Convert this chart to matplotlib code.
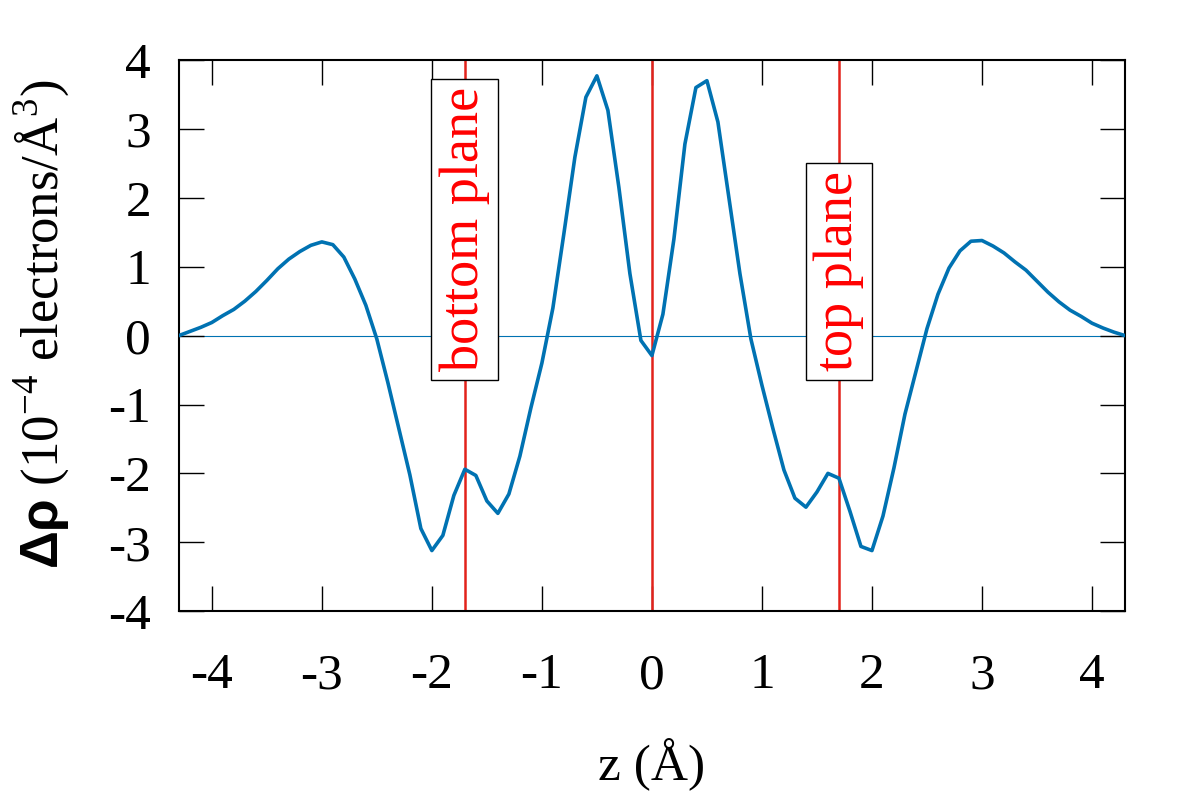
import matplotlib
matplotlib.use("Agg")
import matplotlib.pyplot as plt
import numpy as np

plt.rcParams['font.family'] = ['Liberation Serif', 'DejaVu Serif']
plt.rcParams['mathtext.fontset'] = 'custom'
plt.rcParams['mathtext.rm'] = 'Liberation Serif'
plt.rcParams['mathtext.bf'] = 'Liberation Sans:bold'
plt.rcParams['axes.unicode_minus'] = False

# charge density difference along z
z = np.round(np.arange(-4.3, 4.31, 0.1), 2)
drho = [0.00, 0.06, 0.12, 0.19, 0.29, 0.38, 0.50, 0.64, 0.80, 0.97,
        1.11, 1.22, 1.31, 1.36, 1.32, 1.14, 0.82, 0.44, -0.05, -0.68,
        -1.35, -2.02, -2.80, -3.12, -2.90, -2.32, -1.94, -2.03, -2.40, -2.58,
        -2.30, -1.75, -1.05, -0.40, 0.40, 1.48, 2.59, 3.46, 3.77, 3.27,
        2.15, 0.90, -0.07, -0.29, 0.31, 1.40, 2.78, 3.60, 3.70, 3.10,
        2.00, 0.90, -0.05, -0.72, -1.35, -1.95, -2.36, -2.49, -2.27, -2.00,
        -2.07, -2.55, -3.06, -3.12, -2.62, -1.92, -1.14, -0.52, 0.10, 0.60,
        0.98, 1.23, 1.37, 1.38, 1.30, 1.20, 1.07, 0.95, 0.79, 0.63,
        0.49, 0.37, 0.28, 0.18, 0.11, 0.05, 0.00]

planes = [-1.7, 0.0, 1.7]
plane_labels = {-1.7: 'bottom plane', 1.7: 'top plane'}
xticks = [-4, -3, -2, -1, 0, 1, 2, 3, 4]
yticks = [-4, -3, -2, -1, 0, 1, 2, 3, 4]

fig = plt.figure(figsize=(12, 8), dpi=100)
ax = fig.add_axes([0.149, 0.236, 0.7885, 0.689])

blue = '#0072b2'
red = '#e2221b'

ax.axhline(0, color=blue, lw=0.8, zorder=1)
for p in planes:
    ax.axvline(p, color=red, lw=1.8, zorder=2)
ax.plot(z, drho, color=blue, lw=2.6, zorder=3)

# plane labels in boxes
for p, lab in plane_labels.items():
    ax.text(p, -0.52, lab, rotation=90, ha='center', va='bottom',
            color='red', fontsize=39, zorder=5,
            bbox=dict(boxstyle='square,pad=0.15', fc='white', ec='black', lw=1.0))

ax.set_xlim(-4.3, 4.3)
ax.set_ylim(-4, 4)
ax.set_xticks(xticks)
ax.set_yticks(yticks)
ax.tick_params(direction='in', length=18, width=1.0, top=True, right=True,
               labelsize=37)
ax.tick_params(axis='x', pad=30)
ax.tick_params(axis='y', pad=20)
for s in ax.spines.values():
    s.set_linewidth(1.5)

ax.set_xlabel('z (Å)', fontsize=37, va='top')
ax.xaxis.set_label_coords(0.5, -0.23)
ax.set_ylabel(r'$\mathbf{\Delta\rho}$ (10$^{-4}$ electrons/Å$^{3}$)', fontsize=38)
ax.yaxis.set_label_coords(-0.113, 0.52)

fig.savefig('out.png', dpi=100)
